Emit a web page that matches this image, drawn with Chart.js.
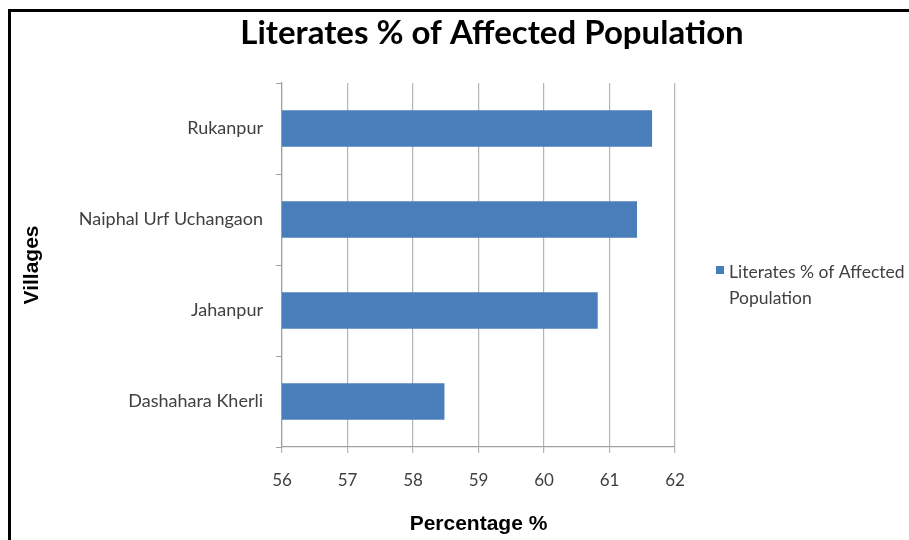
<!DOCTYPE html>
<html>
<head>
<meta charset="utf-8">
<script src="https://cdn.jsdelivr.net/npm/chart.js@4.4.1/dist/chart.umd.min.js"></script>
<style>
  html, body { margin: 0; padding: 0; background: #fff; }
  #wrap { position: relative; width: 909px; height: 540px; overflow: hidden; }
  #frame { position: absolute; left: 8px; top: 9px; width: 1000px; height: 700px;
           border: 3px solid #000; box-sizing: border-box; pointer-events: none; }
  canvas { position: absolute; left: 0; top: 0; }
</style>
</head>
<body>
<div id="wrap">
  <canvas id="chart" width="909" height="540"></canvas>
  <div id="frame"></div>
</div>
<script>
// Villages listed bottom-to-top as in the bar chart
const villages = ['Rukanpur', 'Naiphal Urf Uchangaon', 'Jahanpur', 'Dashahara Kherli'];
const literatesPct = [61.65, 61.42, 60.82, 58.48];
const xTicks = [56, 57, 58, 59, 60, 61, 62];
const chartTitle = 'Literates % of Affected Population';
const seriesName = 'Literates % of Affected Population';
const legendLines = ['Literates % of Affected', 'Population'];
const barColor = '#4a7ebb';
const textGray = '#404040';

const fixedFrame = {
  id: 'fixedFrame',
  afterDraw(chart) {
    const ctx = chart.ctx;
    ctx.save();
    // chart title
    ctx.fillStyle = '#000';
    ctx.font = 'bold 33px Lato, "Open Sans", sans-serif';
    ctx.textAlign = 'center';
    ctx.textBaseline = 'middle';
    ctx.fillText(chartTitle, 492, 33);
    // legend
    const ds = chart.data.datasets[0];
    ctx.fillStyle = ds.backgroundColor;
    ctx.fillRect(716, 266, 8, 8);
    ctx.fillStyle = textGray;
    ctx.font = '17.5px Lato, "Open Sans", sans-serif';
    ctx.textAlign = 'left';
    legendLines.forEach((line, i) => ctx.fillText(line, 729, 272 + i * 26));
    ctx.restore();
  }
};

new Chart(document.getElementById('chart'), {
  type: 'bar',
  data: {
    labels: villages,
    datasets: [{
      label: seriesName,
      data: literatesPct,
      backgroundColor: barColor,
      borderWidth: 0,
      barPercentage: 0.4,
      categoryPercentage: 1.0
    }]
  },
  options: {
    indexAxis: 'y',
    responsive: false,
    animation: false,
    devicePixelRatio: 1,
    layout: { padding: { top: 83, right: 234, left: 0, bottom: 0 } },
    plugins: {
      legend: { display: false },
      title: { display: false },
      tooltip: { enabled: false }
    },
    scales: {
      x: {
        min: 56,
        max: 62,
        afterFit(scale) { scale.height = 93; },
        afterBuildTicks(scale) { scale.ticks = xTicks.map(v => ({ value: v })); },
        ticks: {
          color: textGray,
          font: { family: 'Lato, "Open Sans", sans-serif', size: 17 },
          padding: 17,
          maxRotation: 0
        },
        grid: { color: '#b5b5b5', lineWidth: 1.2, tickLength: 6, drawTicks: true },
        border: { color: '#a0a0a0', width: 1.2 },
        title: {
          display: true,
          text: 'Percentage %',
          color: '#000',
          font: { family: '"Liberation Sans", Arial, sans-serif', size: 21, weight: 'bold' },
          padding: { top: 0, bottom: 3 }
        }
      },
      y: {
        afterFit(scale) { scale.width = 282; },
        ticks: {
          color: textGray,
          font: { family: 'Lato, "Open Sans", sans-serif', size: 18 },
          padding: 13
        },
        grid: { color: '#a0a0a0', drawOnChartArea: false, tickLength: 6, offset: true },
        border: { color: '#a0a0a0', width: 1.2 },
        title: {
          display: true,
          text: 'Villages',
          color: '#000',
          font: { family: '"Liberation Sans", Arial, sans-serif', size: 21, weight: 'bold' },
          padding: { top: 20, bottom: 0 }
        }
      }
    }
  },
  plugins: [fixedFrame]
});
</script>
</body>
</html>
